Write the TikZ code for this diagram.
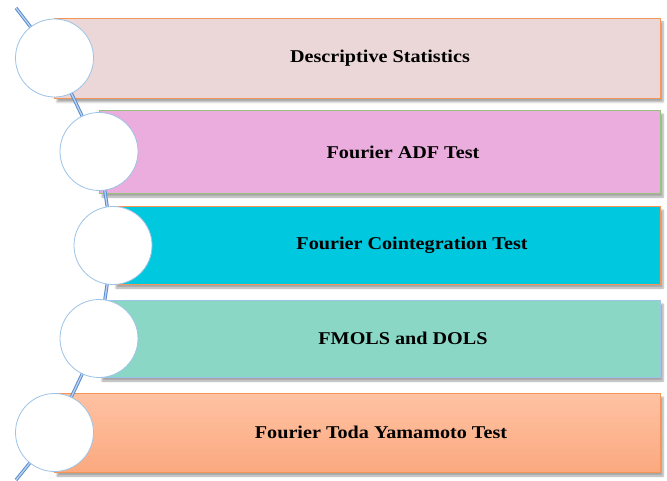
\documentclass[tikz,border=0pt]{standalone}
\usepackage{fontspec}
\setmainfont{Liberation Serif}
\usetikzlibrary{shadows.blur}
\definecolor{spine}{HTML}{5A8DD0}
\definecolor{spinein}{HTML}{BCD2EE}
\definecolor{ringline}{HTML}{9DC3E6}
\definecolor{fillA}{HTML}{EBD7D7}
\definecolor{fillB}{HTML}{EAADDE}
\definecolor{fillC}{HTML}{00C8DE}
\definecolor{fillD}{HTML}{8AD7C6}
\definecolor{fillEtop}{HTML}{FFC2A3}
\definecolor{fillEbot}{HTML}{FBA97F}
\definecolor{edgeOrange}{HTML}{F4955A}
\definecolor{edgeGreen}{HTML}{93C47D}
\definecolor{edgeBlue}{HTML}{9DC3E6}
\begin{document}
\begin{tikzpicture}[x=1pt,y=-1pt,
  bar/.style={line width=0.9pt,
    blur shadow={shadow xshift=3pt,shadow yshift=-4pt,shadow blur steps=6,shadow opacity=35}},
  ring/.style={circle,draw=ringline,line width=0.8pt,fill=white,minimum size=78pt,inner sep=0pt},
  label/.style={font=\bfseries\fontsize{18}{21}\selectfont,inner sep=0pt},
  spineline/.style={draw=spine,line width=1pt,double=spinein,double distance=1.3pt}]
\useasboundingbox (0,0) rectangle (667,481);

% bars
\path[bar,fill=fillA,draw=edgeOrange] (54,18) rectangle (660,98);
\path[bar,fill=fillB,draw=edgeGreen] (99,110) rectangle (660,193);
\path[bar,fill=fillC,draw=edgeOrange] (113,206) rectangle (660,284);
\path[bar,fill=fillD,draw=edgeBlue] (99,300) rectangle (660,377);
\path[bar,top color=fillEtop,bottom color=fillEbot,draw=edgeOrange] (54,393) rectangle (660,472);

% spine anchors
\coordinate (top) at (16,8);
\coordinate (bottom) at (16,480);
\coordinate (p1) at (54.5,58);
\coordinate (p2) at (99,151.5);
\coordinate (p3) at (113,245.5);
\coordinate (p4) at (99,338.5);
\coordinate (p5) at (54.5,432.5);
\draw[spineline] (top) -- (p1) -- (p2) -- (p3) -- (p4) -- (p5) -- (bottom);

% rings
\node[ring] (c1) at (p1) {};
\node[ring] (c2) at (p2) {};
\node[ring] (c3) at (p3) {};
\node[ring] (c4) at (p4) {};
\node[ring] (c5) at (p5) {};

% labels
\node[label] (t1) at (380,58) {\scalebox{1.12}[1]{Descriptive Statistics}};
\node[label] (t2) at (403,152) {\scalebox{1.12}[1]{Fourier ADF Test}};
\node[label] (t3) at (412,245) {\scalebox{1.12}[1]{Fourier Cointegration Test}};
\node[label] (t4) at (403,338) {\scalebox{1.12}[1]{FMOLS and DOLS}};
\node[label] (t5) at (381,432) {\scalebox{1.12}[1]{Fourier Toda Yamamoto Test}};
\end{tikzpicture}
\end{document}
